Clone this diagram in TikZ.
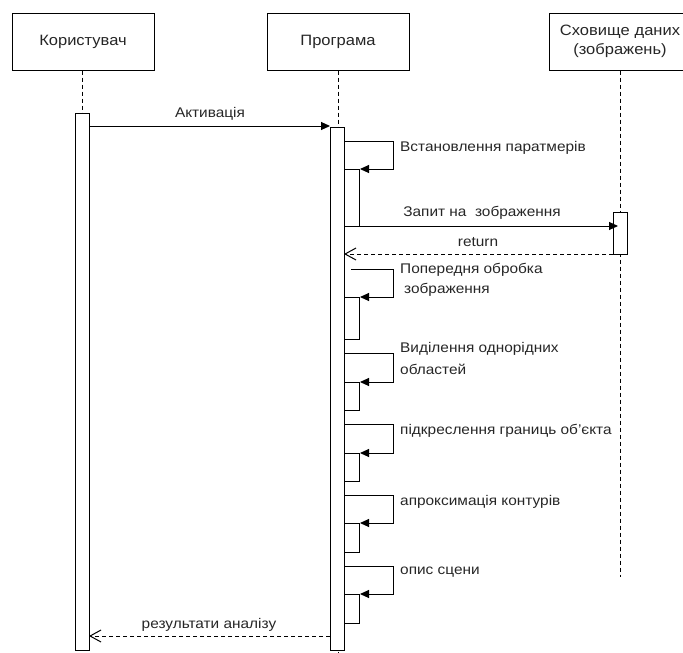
\documentclass[tikz,border=0pt]{standalone}
\usepackage{fontspec}
\setmainfont[FakeStretch=1.1]{Liberation Sans}
\usetikzlibrary{arrows.meta}
\begin{document}
\begin{tikzpicture}[x=1pt,y=-1pt,
  every node/.style={font=\fontsize{14}{18}\selectfont, text=black!85},
  actor/.style={draw, line width=1pt, minimum width=142pt, minimum height=57pt, inner sep=0pt, align=center, fill=white, font=\fontsize{15}{19}\selectfont},
  actbar/.style={draw, line width=1pt, fill=white, minimum width=14pt, inner sep=0pt, anchor=north west},
  life/.style={line width=1pt, dash pattern=on 4pt off 3pt},
  msg/.style={line width=1pt, -{Triangle[length=9pt,width=8pt]}},
  ret/.style={line width=1pt, dash pattern=on 4pt off 3pt, -{Straight Barb[length=11pt,width=12pt,line width=1pt]}},
  selfmsg/.style={line width=1pt, -{Triangle[length=9pt,width=8pt]}},
  lbl/.style={inner sep=0pt},
  slbl/.style={inner sep=0pt, anchor=west}]
\useasboundingbox (0,0) rectangle (683,653);
\clip (0,0) rectangle (683,653);

% lifeline heads
\node[actor] (user) at (83,41.5) {Користувач};
\node[actor] (prog) at (338,41.5) {Програма};
\node[actor, text width=140pt] (store) at (620,41.5) {Сховище даних\\(зображень)};

% lifelines
\coordinate (uend) at (82,113);
\coordinate (pend) at (338,653);
\coordinate (send) at (620,577);
\draw[life] (user.south -| uend) -- (uend);
\draw[life] (prog.south) -- (pend);
\draw[life] (store.south) -- (send);

% activation bars
\node[actbar, minimum height=537pt] (ubar) at (75,113) {};
\node[actbar, minimum height=523pt] (pbar) at (330,127) {};
\node[actbar, minimum height=42pt] (sbar) at (613,212) {};

% nested activation bars
\node[actbar, minimum height=57pt, minimum width=15pt] (n1) at (344,169) {};
\node[actbar, minimum height=42pt, minimum width=15pt] (n2) at (344,297) {};
\node[actbar, minimum height=28pt, minimum width=15pt] (n3) at (344,382) {};
\node[actbar, minimum height=28pt, minimum width=15pt] (n4) at (344,453) {};
\node[actbar, minimum height=29pt, minimum width=15pt] (n5) at (344,523) {};
\node[actbar, minimum height=29pt, minimum width=15pt] (n6) at (344,594) {};

% activation message
\coordinate (a1) at (89,126);
\coordinate (a2) at (330,126);
\draw[msg] (a1) -- (a2);
\node[lbl] (lact) at (210,114) {Активація};

% self calls
\coordinate (s1a) at (344,141);
\coordinate (s1b) at (393,141);
\coordinate (s1c) at (393,169);
\draw[selfmsg] (s1a) -- (s1b) -- (s1c) -- (n1.north east);
\node[slbl] (l1) at (400,148) {Встановлення паратмерів};

% request to storage
\coordinate (q1) at (344,226);
\coordinate (q2) at (618,226);
\draw[msg] (q1) -- (q2);
\node[lbl] (lq) at (482,213) {Запит на\ \ зображення};

% return
\coordinate (r1) at (613,254);
\coordinate (r2) at (344,254);
\draw[ret] (r1) -- (r2);
\node[lbl] (lr) at (478,242) {return};

\coordinate (s2a) at (351,269);
\coordinate (s2b) at (393,269);
\coordinate (s2c) at (393,297);
\draw[selfmsg] (s2a) -- (s2b) -- (s2c) -- (n2.north east);
\node[slbl] (l2a) at (400,270) {Попередня обробка};
\node[slbl] (l2b) at (404,290) {зображення};

\coordinate (s3a) at (344,353);
\coordinate (s3b) at (393,353);
\coordinate (s3c) at (393,382);
\draw[selfmsg] (s3a) -- (s3b) -- (s3c) -- (n3.north east);
\node[slbl] (l3a) at (400,349) {Виділення однорідних};
\node[slbl] (l3b) at (400,369) {областей};

\coordinate (s4a) at (344,424);
\coordinate (s4b) at (393,424);
\coordinate (s4c) at (393,453);
\draw[selfmsg] (s4a) -- (s4b) -- (s4c) -- (n4.north east);
\node[slbl] (l4) at (400,431) {підкреслення границь об'єкта};

\coordinate (s5a) at (344,495);
\coordinate (s5b) at (393,495);
\coordinate (s5c) at (393,523);
\draw[selfmsg] (s5a) -- (s5b) -- (s5c) -- (n5.north east);
\node[slbl] (l5) at (400,502) {апроксимація контурів};

\coordinate (s6a) at (344,566);
\coordinate (s6b) at (393,566);
\coordinate (s6c) at (393,594);
\draw[selfmsg] (s6a) -- (s6b) -- (s6c) -- (n6.north east);
\node[slbl] (l6) at (400,572) {опис сцени};

% result
\coordinate (e1) at (330,636);
\coordinate (e2) at (89,636);
\draw[ret] (e1) -- (e2);
\node[lbl] (le) at (209,625) {результати аналізу};
\end{tikzpicture}
\end{document}
